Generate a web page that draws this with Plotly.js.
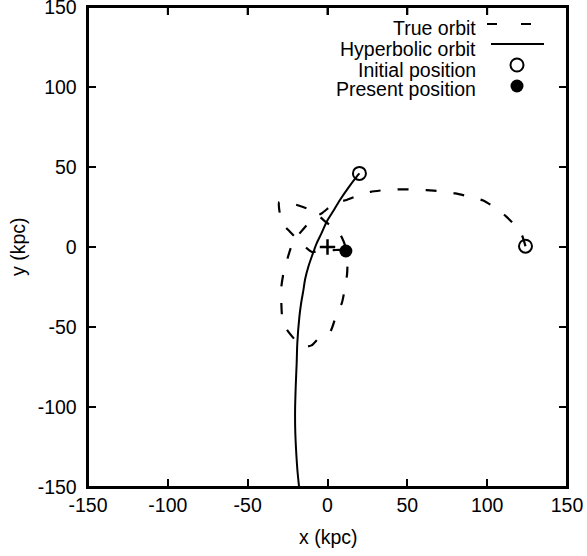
<!DOCTYPE html>
<html>
<head>
<meta charset="utf-8">
<script src="https://cdn.plot.ly/plotly-3.0.1.min.js"></script>
<style>html,body{margin:0;padding:0;background:#fff;}#wrap{position:relative;width:587px;height:556px;}#chart{width:587px;height:556px;}#frame{position:absolute;left:0;top:0;width:587px;height:556px;pointer-events:none;z-index:1000;}</style>
</head>
<body>
<div id="wrap"><div id="chart"></div><svg id="frame" xmlns="http://www.w3.org/2000/svg" width="587" height="556"></svg></div>
<script>
// True orbit (kpc)
var trueX = [124, 123, 121.5, 117, 112, 105, 97.5, 89, 80, 71, 62, 53, 44, 35, 27, 20, 12, 4.7, -3.4, -9, -17.2, -21.6, -25, -27.5, -29, -29, -28.4, -26.6, -19, -14, -10, -4.7, 1.6, 5.9, 9, 11, 12.2, 12.5, 11.5, 9, 4, 0, -5, -9.7, -15.3, -23.4, -28.4, -30.3, -30.3, -26.6, -15.3, -9, -0.3, 5.9, 9, 11, 11.5];
var trueY = [0.5, 4, 8, 14, 19, 24.5, 29, 31.5, 33.5, 34.8, 35.5, 36, 36, 35.5, 34.5, 32.5, 29.4, 27.5, 21.2, 18, 8.8, 3.1, -7, -16, -25.6, -31.9, -43.8, -50, -59.4, -62.3, -61.5, -56.2, -53.1, -41.2, -35, -25, -17.5, -10, -4, -2, -1.9, -1.9, -2.3, -3.1, 1.25, 9.4, 15, 24, 28, 28.3, 25, 22.5, 15, 11.25, 6, 1, -2.5];
// Hyperbolic orbit (kpc)
var hypX = [20, 18.3, 13, 7.8, 3, -0.5, -3.8, -6.8, -9.5, -12, -14, -15.1, -16.5, -17.6, -18.9, -19.3, -19.9, -20.3, -20.2, -19.5, -18.8, -17.8];
var hypY = [46, 44, 37, 29.4, 21.5, 15.8, 8.5, 2.3, -5, -12.3, -20, -27, -35, -43.5, -60, -72.5, -87, -102, -115, -130, -140, -150];
// Positions
var initialX = [124, 20];
var initialY = [0.5, 46];
var presentX = [11.5];
var presentY = [-2.5];
var centerX = [0];
var centerY = [0];
// Ticks
var tickVals = [-150, -100, -50, 0, 50, 100, 150];
var tickText = ['-150', '-100', '-50', '0', '50', '100', '150'];
// Legend labels and axis titles
var legendLabels = ['True orbit', 'Hyperbolic orbit', 'Initial position', 'Present position'];
var xTitle = 'x (kpc)';
var yTitle = 'y (kpc)';

var FONT = 'Liberation Sans, Arial, Helvetica, sans-serif';
var FS = 19.5;

var L = 88, R = 567, T = 7, B = 487;
function px(v){ return (v - L) / (R - L); }
function py(v){ return (B - v) / (B - T); }

var traces = [
  {x: trueX, y: trueY, mode: 'lines', line: {color: '#000', width: 2.2, dash: '11px,17px', shape: 'spline', smoothing: 0.6}, hoverinfo: 'skip'},
  {x: hypX, y: hypY, mode: 'lines', line: {color: '#000', width: 2, shape: 'spline', smoothing: 0.8}, hoverinfo: 'skip'},
  {x: centerX, y: centerY, mode: 'markers', marker: {symbol: 'cross-thin', size: 11, line: {color: '#000', width: 2.5}}, hoverinfo: 'skip'},
  {x: initialX, y: initialY, mode: 'markers', marker: {symbol: 'circle-open', size: 13, color: '#000', line: {color: '#000', width: 2}}, hoverinfo: 'skip'},
  {x: presentX, y: presentY, mode: 'markers', marker: {symbol: 'circle', size: 13, color: '#000'}, hoverinfo: 'skip'},
  // legend key samples on a hidden overlay axis pair whose 0..1 range equals the plot area
  {x: [px(487), px(544)], y: [py(24), py(24)], xaxis: 'x3', yaxis: 'y3', mode: 'lines', line: {color: '#000', width: 2.2, dash: '10px,24px'}, hoverinfo: 'skip'},
  {x: [px(491), px(544)], y: [py(44), py(44)], xaxis: 'x3', yaxis: 'y3', mode: 'lines', line: {color: '#000', width: 2}, hoverinfo: 'skip'},
  {x: [px(517)], y: [py(65)], xaxis: 'x3', yaxis: 'y3', mode: 'markers', marker: {symbol: 'circle-open', size: 13, color: '#000', line: {color: '#000', width: 2}}, hoverinfo: 'skip'},
  {x: [px(517)], y: [py(86)], xaxis: 'x3', yaxis: 'y3', mode: 'markers', marker: {symbol: 'circle', size: 13, color: '#000'}, hoverinfo: 'skip'}
];

var textRows = [28, 49, 70, 89];
var annotations = legendLabels.map(function(t, i){
  return {text: t, xref: 'paper', yref: 'paper', x: px(478), y: py(textRows[i]), xanchor: 'right', yanchor: 'middle', showarrow: false, font: {family: FONT, size: FS, color: '#000'}};
});
annotations.push({text: xTitle, xref: 'paper', yref: 'paper', x: px(328), y: py(537), xanchor: 'center', yanchor: 'middle', showarrow: false, font: {family: FONT, size: FS, color: '#000'}});
annotations.push({text: yTitle, xref: 'paper', yref: 'paper', x: px(18), y: py(247), xanchor: 'center', yanchor: 'middle', textangle: -90, showarrow: false, font: {family: FONT, size: FS, color: '#000'}});

var shapes = [
  {type: 'rect', xref: 'paper', yref: 'paper', x0: 0, x1: 1, y0: 0, y1: 1, line: {color: '#000', width: 2}, layer: 'above'}
];

function axisCommon(){
  return {
    range: [-150, 150], tickmode: 'array', tickvals: tickVals, ticktext: tickText,
    showline: true, linecolor: '#000', linewidth: 2, mirror: 'ticks',
    ticks: 'inside', ticklen: 8, tickwidth: 2, tickcolor: '#000',
    showgrid: false, zeroline: false, ticklabeloverflow: 'allow',
    tickfont: {family: FONT, size: FS, color: '#000'}
  };
}

var yaxis = axisCommon();
yaxis.ticktext = tickText.map(function(t){ return t + '\u00a0'; });

var layout = {
  width: 587, height: 556,
  margin: {l: L, r: 587 - R, t: T, b: 556 - B, pad: 0},
  showlegend: false,
  xaxis: axisCommon(),
  yaxis: yaxis,
  xaxis3: {overlaying: 'x', anchor: 'y3', range: [0, 1], visible: false},
  yaxis3: {overlaying: 'y', anchor: 'x3', range: [0, 1], visible: false},
  annotations: annotations,
  shapes: shapes
};

var gd = document.getElementById('chart');

// Frame and mirrored (top/right) ticks, placed with the library's own axis scales
function drawFrame(){
  var fl = gd._fullLayout;
  if (!fl || !fl.xaxis || !fl.yaxis) return;
  var xa = fl.xaxis, ya = fl.yaxis;
  var x0 = xa._offset, x1 = xa._offset + xa._length;
  var y0 = ya._offset, y1 = ya._offset + ya._length;
  var NS = 'http://www.w3.org/2000/svg';
  var svg = document.getElementById('frame');
  while (svg.firstChild) svg.removeChild(svg.firstChild);
  function seg(ax, ay, bx, by){
    var l = document.createElementNS(NS, 'line');
    l.setAttribute('x1', ax); l.setAttribute('y1', ay);
    l.setAttribute('x2', bx); l.setAttribute('y2', by);
    l.setAttribute('stroke', '#000'); l.setAttribute('stroke-width', '2');
    svg.appendChild(l);
  }
  var r = document.createElementNS(NS, 'rect');
  r.setAttribute('x', x0); r.setAttribute('y', y0);
  r.setAttribute('width', x1 - x0); r.setAttribute('height', y1 - y0);
  r.setAttribute('fill', 'none'); r.setAttribute('stroke', '#000'); r.setAttribute('stroke-width', '2');
  svg.appendChild(r);
  tickVals.forEach(function(v){
    var tx = xa._offset + xa.l2p(v);
    var ty = ya._offset + ya.l2p(v);
    seg(tx, y0, tx, y0 + 8);
    seg(x1, ty, x1 - 8, ty);
  });
}

Plotly.newPlot(gd, traces, layout, {staticPlot: true, displayModeBar: false}).then(drawFrame);
drawFrame();
</script>
</body>
</html>
